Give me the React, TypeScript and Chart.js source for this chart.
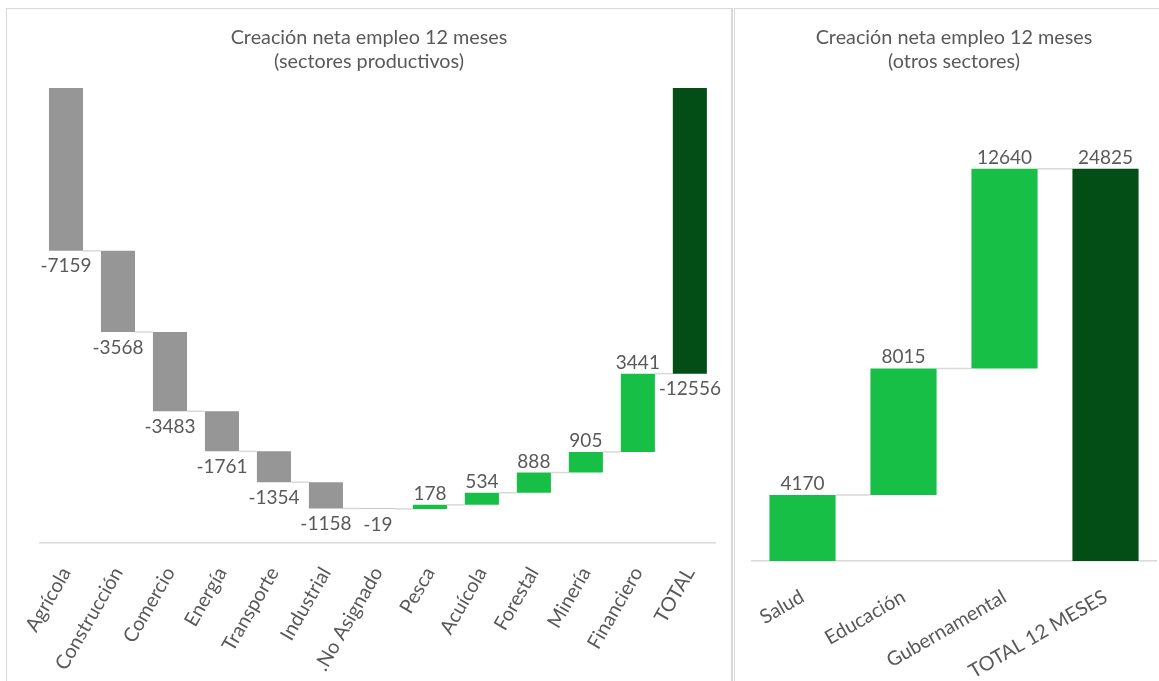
import React, { useEffect, useRef } from 'react';
import { Chart, registerables } from 'chart.js';

Chart.register(...registerables);

// ---------- data ----------
const categoriesLeft = [
  'Agrícola', 'Construcción', 'Comercio', 'Energía', 'Transporte', 'Industrial',
  '.No Asignado', 'Pesca', 'Acuícola', 'Forestal', 'Minería', 'Financiero', 'TOTAL',
];
const valuesLeft = [-7159, -3568, -3483, -1761, -1354, -1158, -19, 178, 534, 888, 905, 3441, -12556];
const totalsLeft = [false, false, false, false, false, false, false, false, false, false, false, false, true];
const titleLeft = ['Creación neta empleo 12 meses', '(sectores productivos)'];
const yRangeLeft = [-20000, 0];

const categoriesRight = ['Salud', 'Educación', 'Gubernamental', 'TOTAL 12 MESES'];
const valuesRight = [4170, 8015, 12640, 24825];
const totalsRight = [false, false, false, true];
const titleRight = ['Creación neta empleo 12 meses', '(otros sectores)'];
const yRangeRight = [0, 30000];

// ---------- styles ----------
const FONT = 'Lato, "Noto Sans", sans-serif';
const TEXT = '#595959';
const C_DEC = '#969696';
const C_INC = '#17bf47';
const C_TOT = '#034d16';
const C_LINE = '#d9d9d9';

function buildWaterfall(values: number[], totals: boolean[]) {
  let cum = 0;
  const ranges: [number, number][] = [];
  const ends: number[] = [];
  values.forEach((v, i) => {
    if (totals[i]) {
      ranges.push([0, v]);
      cum = v;
    } else {
      ranges.push([cum, cum + v]);
      cum += v;
    }
    ends.push(cum);
  });
  return { ranges, ends };
}

function makePlugin(values: number[], ends: number[], labelSize: number) {
  return {
    id: 'waterfallExtras',
    beforeDatasetsDraw(chart: any) {
      const ctx = chart.ctx;
      const meta = chart.getDatasetMeta(0);
      const y = chart.scales.y;
      ctx.save();
      ctx.strokeStyle = C_LINE;
      ctx.lineWidth = 1.5;
      for (let i = 0; i < meta.data.length - 1; i++) {
        const a = meta.data[i];
        const b = meta.data[i + 1];
        const py = y.getPixelForValue(ends[i]);
        ctx.beginPath();
        ctx.moveTo(a.x + a.width / 2, py);
        ctx.lineTo(b.x - b.width / 2, py);
        ctx.stroke();
      }
      ctx.restore();
    },
    afterDatasetsDraw(chart: any) {
      const ctx = chart.ctx;
      const meta = chart.getDatasetMeta(0);
      const y = chart.scales.y;
      ctx.save();
      ctx.fillStyle = TEXT;
      ctx.font = `${labelSize}px ${FONT}`;
      ctx.textAlign = 'center';
      meta.data.forEach((el: any, i: number) => {
        const v = values[i];
        const py = y.getPixelForValue(ends[i]);
        if (v < 0) {
          ctx.textBaseline = 'top';
          ctx.fillText(String(v), el.x, py + 6);
        } else {
          ctx.textBaseline = 'alphabetic';
          ctx.fillText(String(v), el.x, py - 5);
        }
      });
      ctx.restore();
    },
  };
}

type Props = {
  categories: string[];
  values: number[];
  totals: boolean[];
  title: string[];
  yRange: number[];
  rotation: number;
  width: number;
  height: number;
  leftW: number;
  rightW: number;
  xHeight: number;
  titlePadTop: number;
  titlePadBottom: number;
  tickPad: number;
};

function Waterfall(p: Props) {
  const ref = useRef<HTMLCanvasElement | null>(null);
  useEffect(() => {
    if (!ref.current) return;
    const { ranges, ends } = buildWaterfall(p.values, p.totals);
    const colors = p.values.map((v, i) => (p.totals[i] ? C_TOT : v < 0 ? C_DEC : C_INC));
    const chart = new Chart(ref.current, {
      type: 'bar',
      data: {
        labels: p.categories,
        datasets: [
          {
            data: ranges as any,
            backgroundColor: colors,
            borderWidth: 0,
            categoryPercentage: 1,
            barPercentage: 0.655,
          },
        ],
      },
      options: {
        animation: false,
        responsive: true,
        maintainAspectRatio: false,
        layout: { padding: 0 },
        plugins: {
          legend: { display: false },
          tooltip: { enabled: false },
          title: {
            display: true,
            text: p.title,
            color: TEXT,
            font: { family: FONT, size: 19.8, weight: 'normal', lineHeight: 24.5 / 19.8 },
            padding: { top: p.titlePadTop, bottom: p.titlePadBottom },
          },
        },
        scales: {
          x: {
            grid: { display: false, drawTicks: false },
            border: { display: true, color: C_LINE, width: 1.5 },
            ticks: {
              autoSkip: false,
              minRotation: p.rotation,
              maxRotation: p.rotation,
              color: TEXT,
              font: { family: FONT, size: 19.8 },
              padding: p.tickPad,
            },
            afterFit: (s: any) => {
              s.height = p.xHeight;
            },
          },
          y: {
            min: p.yRange[0],
            max: p.yRange[1],
            grid: { display: false },
            border: { display: false },
            ticks: { display: false },
            afterFit: (s: any) => {
              s.width = p.leftW;
            },
          },
          y2: {
            position: 'right',
            grid: { display: false },
            border: { display: false },
            ticks: { display: false },
            afterFit: (s: any) => {
              s.width = p.rightW;
            },
          },
        },
      },
      plugins: [makePlugin(p.values, ends, 19)],
    } as any);
    return () => chart.destroy();
  }, []);
  return (
    <div style={{ position: 'relative', width: p.width, height: p.height }}>
      <canvas ref={ref} />
    </div>
  );
}

export default function App() {
  return (
    <div
      style={{
        position: 'absolute',
        left: 0,
        top: 0,
        width: 1159,
        height: 681,
        overflow: 'hidden',
        background: '#ffffff',
      }}
    >
      <div
        style={{
          position: 'absolute',
          left: 6,
          top: 8,
          width: 724,
          height: 700,
          border: '1px solid #d9d9d9',
          borderRight: '2px solid #d9d9d9',
        }}
      >
        <Waterfall
          categories={categoriesLeft}
          values={valuesLeft}
          totals={totalsLeft}
          title={titleLeft}
          yRange={yRangeLeft}
          rotation={60}
          width={724}
          height={672}
          leftW={33}
          rightW={15}
          xHeight={138}
          titlePadTop={16}
          titlePadBottom={14}
          tickPad={20}
        />
      </div>
      <div
        style={{
          position: 'absolute',
          left: 734,
          top: 8,
          width: 438,
          height: 700,
          border: '1px solid #d9d9d9',
        }}
      >
        <Waterfall
          categories={categoriesRight}
          values={valuesRight}
          totals={totalsRight}
          title={titleRight}
          yRange={yRangeRight}
          rotation={30}
          width={438}
          height={672}
          leftW={17}
          rightW={17}
          xHeight={120}
          titlePadTop={16}
          titlePadBottom={13}
          tickPad={24}
        />
      </div>
    </div>
  );
}
